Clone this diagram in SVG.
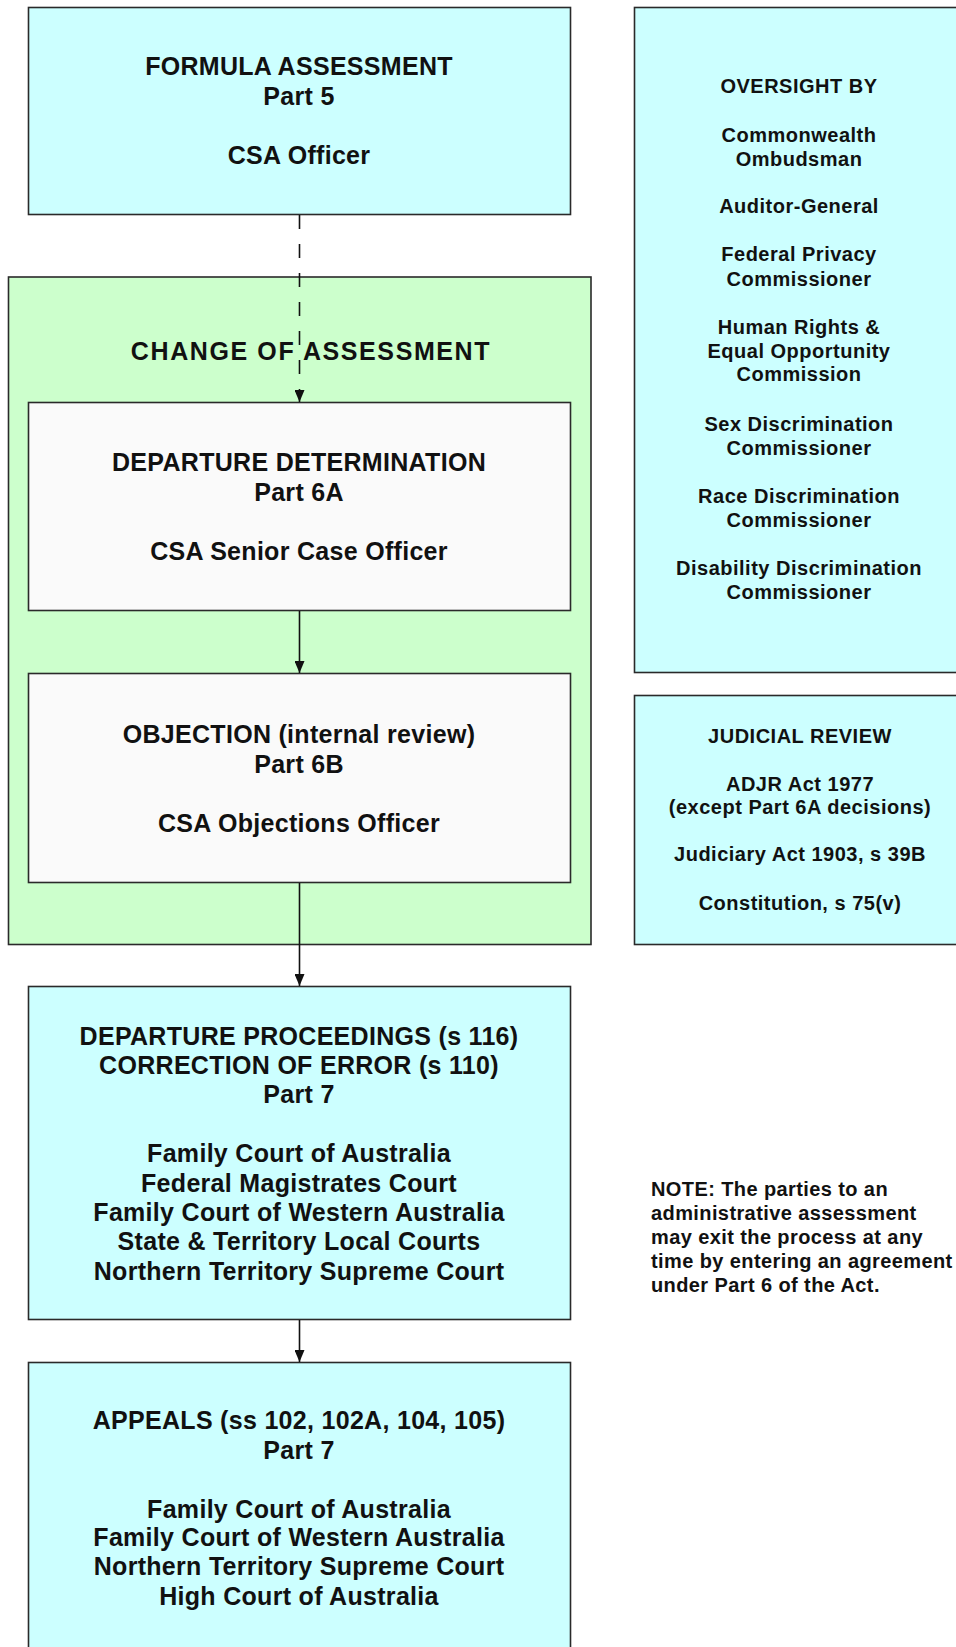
<svg xmlns="http://www.w3.org/2000/svg" width="956" height="1647" viewBox="0 0 956 1647">
<defs>
<style>
.box{stroke:#2a2a2a;stroke-width:1.6}
.cyan{fill:#CCFFFF}
.green{fill:#CCFFCC}
.white{fill:#FAFAFA}
.t{font-family:"Liberation Sans",Arial,sans-serif;font-weight:bold;font-size:25px;fill:#111;text-anchor:middle;letter-spacing:0.3px}
.r{font-family:"Liberation Sans",Arial,sans-serif;font-weight:bold;font-size:20px;fill:#111;text-anchor:middle;letter-spacing:0.5px}
.n{font-family:"Liberation Sans",Arial,sans-serif;font-weight:bold;font-size:20px;fill:#111;letter-spacing:0.4px}
.c{stroke:#111;stroke-width:1.6;fill:none}
</style>
<marker id="arr" viewBox="0 0 12 10" refX="12" refY="5" markerWidth="12" markerHeight="10" markerUnits="userSpaceOnUse" orient="auto">
<path d="M0,0 L12,5 L0,10 Z" fill="#111"/>
</marker>
</defs>

<g id="change-of-assessment">
<rect class="box green" x="8.5" y="277" width="582.5" height="667.5"/>
<text class="t" x="311" y="360" style="letter-spacing:1.6px">CHANGE OF ASSESSMENT</text>
</g>

<g id="formula-assessment">
<rect class="box cyan" x="28.5" y="7.5" width="542" height="207"/>
<text class="t" x="299" y="75">FORMULA ASSESSMENT</text>
<text class="t" x="299" y="105">Part 5</text>
<text class="t" x="299" y="164">CSA Officer</text>
</g>

<g id="departure-determination">
<rect class="box white" x="28.5" y="402.5" width="542" height="208"/>
<text class="t" x="299" y="471">DEPARTURE DETERMINATION</text>
<text class="t" x="299" y="500.5">Part 6A</text>
<text class="t" x="299" y="559.5">CSA Senior Case Officer</text>
</g>

<g id="objection">
<rect class="box white" x="28.5" y="673.5" width="542" height="209"/>
<text class="t" x="299" y="743">OBJECTION (internal review)</text>
<text class="t" x="299" y="772.5">Part 6B</text>
<text class="t" x="299" y="831.5">CSA Objections Officer</text>
</g>

<g id="departure-proceedings">
<rect class="box cyan" x="28.5" y="986.5" width="542" height="333"/>
<text class="t" x="299" y="1045">DEPARTURE PROCEEDINGS (s 116)</text>
<text class="t" x="299" y="1074">CORRECTION OF ERROR (s 110)</text>
<text class="t" x="299" y="1103">Part 7</text>
<text class="t" x="299" y="1162">Family Court of Australia</text>
<text class="t" x="299" y="1191.5">Federal Magistrates Court</text>
<text class="t" x="299" y="1221">Family Court of Western Australia</text>
<text class="t" x="299" y="1250">State &amp; Territory Local Courts</text>
<text class="t" x="299" y="1279.5">Northern Territory Supreme Court</text>
</g>

<g id="appeals">
<rect class="box cyan" x="28.5" y="1362.5" width="542" height="300"/>
<text class="t" x="299" y="1429">APPEALS (ss 102, 102A, 104, 105)</text>
<text class="t" x="299" y="1458.5">Part 7</text>
<text class="t" x="299" y="1517.5">Family Court of Australia</text>
<text class="t" x="299" y="1546">Family Court of Western Australia</text>
<text class="t" x="299" y="1575">Northern Territory Supreme Court</text>
<text class="t" x="299" y="1604.5">High Court of Australia</text>
</g>

<g id="oversight">
<rect class="box cyan" x="634.5" y="7.5" width="340" height="665"/>
<text class="r" x="799" y="93">OVERSIGHT BY</text>
<text class="r" x="799" y="141.5">Commonwealth</text>
<text class="r" x="799" y="165.5">Ombudsman</text>
<text class="r" x="799" y="213">Auditor-General</text>
<text class="r" x="799" y="261">Federal Privacy</text>
<text class="r" x="799" y="285.5">Commissioner</text>
<text class="r" x="799" y="333.5">Human Rights &amp;</text>
<text class="r" x="799" y="357.5">Equal Opportunity</text>
<text class="r" x="799" y="381">Commission</text>
<text class="r" x="799" y="430.5">Sex Discrimination</text>
<text class="r" x="799" y="454.5">Commissioner</text>
<text class="r" x="799" y="503">Race Discrimination</text>
<text class="r" x="799" y="527">Commissioner</text>
<text class="r" x="799" y="575">Disability Discrimination</text>
<text class="r" x="799" y="598.5">Commissioner</text>
</g>

<g id="judicial-review">
<rect class="box cyan" x="634.5" y="695.5" width="340" height="249"/>
<text class="r" x="800" y="742.5">JUDICIAL REVIEW</text>
<text class="r" x="800" y="790.5">ADJR Act 1977</text>
<text class="r" x="800" y="814">(except Part 6A decisions)</text>
<text class="r" x="800" y="861">Judiciary Act 1903, s 39B</text>
<text class="r" x="800" y="909.5">Constitution, s 75(v)</text>
</g>

<g id="note">
<text class="n" x="651" y="1196">NOTE: The parties to an</text>
<text class="n" x="651" y="1220">administrative assessment</text>
<text class="n" x="651" y="1244">may exit the process at any</text>
<text class="n" x="651" y="1268">time by entering an agreement</text>
<text class="n" x="651" y="1292">under Part 6 of the Act.</text>
</g>

<g id="connectors">
<line class="c" x1="299.5" y1="215" x2="299.5" y2="402" stroke-dasharray="14,15" marker-end="url(#arr)"/>
<line class="c" x1="299.5" y1="611" x2="299.5" y2="673" marker-end="url(#arr)"/>
<line class="c" x1="299.5" y1="883" x2="299.5" y2="986" marker-end="url(#arr)"/>
<line class="c" x1="299.5" y1="1320" x2="299.5" y2="1362" marker-end="url(#arr)"/>
</g>
</svg>
